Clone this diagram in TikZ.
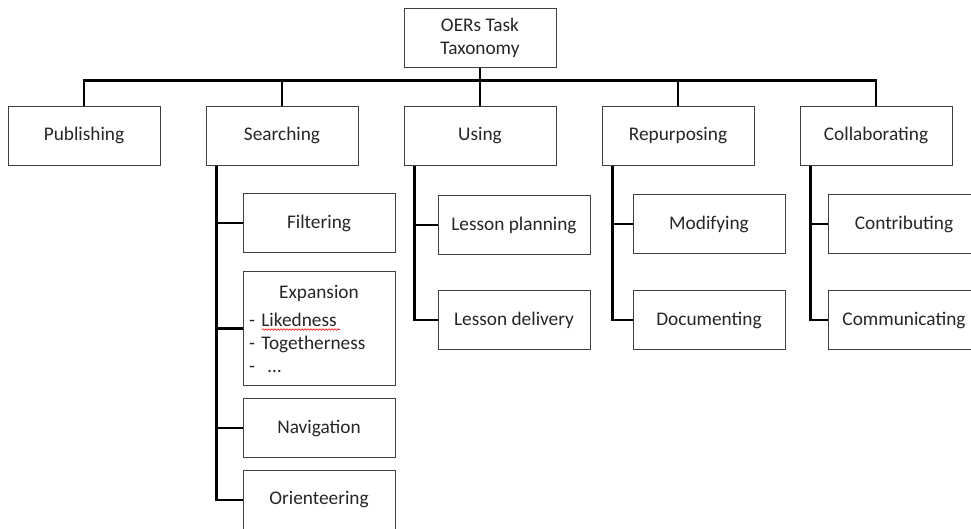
\documentclass[tikz,border=0pt]{standalone}
\usepackage{fontspec}
\setmainfont{Carlito}
\usepackage{tikz}
\usetikzlibrary{positioning,decorations.pathmorphing}
\definecolor{boxgray}{HTML}{404040}
\definecolor{textgray}{HTML}{262626}
\tikzstyle{block} = [rectangle, draw=boxgray, line width=1pt, text=textgray,
align=center, minimum width=152pt, minimum height=59pt, font=\fontsize{19.3}{23}\selectfont]
\tikzstyle{link} = [draw, line width=2.4pt]
\tikzstyle{spell} = [draw=red, line width=0.6pt, decorate, decoration={snake, amplitude=0.8pt, segment length=3pt}]

\begin{document}
\begin{tikzpicture}[node distance = 198pt]
    \useasboundingbox (0,0) rectangle (971pt,-528pt);
    \clip (0,0) rectangle (971pt,-528pt);
    % Nodes
    \node [block] (publishing) at (84pt,-135.5pt) {Publishing};
    \node [block, right of=publishing] (searching) {Searching};
    \node [block, right of=searching] (using) {Using};
    \node [block, right of=using] (repurposing) {Repurposing};
    \node [block, right of=repurposing] (collaborating) {Collaborating};
    \node [block, above of=using, node distance=98pt] (root) {OERs Task\\Taxonomy};

    % children
    \node [block, below of=searching, node distance=87.5pt, xshift=37pt] (filtering) {Filtering};
    \node [block, below=18pt of filtering, minimum height=114pt, text width=140pt, align=left] (expansion)
        {\centering Expansion\par\vspace{5pt}\raggedright - Likedness\\- Togetherness\\-\ \ \dots\par};
    \node [block, below=12pt of expansion] (navigation) {Navigation};
    \node [block, below=12pt of navigation] (orienteering) {Orienteering};
    \node [block, below of=using, node distance=89.5pt, xshift=34pt] (planning) {Lesson planning};
    \node [block, below=35pt of planning] (delivery) {Lesson delivery};
    \node [block, below of=repurposing, node distance=88.5pt, xshift=31pt] (modifying) {Modifying};
    \node [block, below=36pt of modifying] (documenting) {Documenting};
    \node [block, below of=collaborating, node distance=88.5pt, xshift=28pt] (contributing) {Contributing};
    \node [block, below=36pt of contributing] (communicating) {Communicating};

    % spell check mark
    \draw [spell] ([xshift=-57pt,yshift=-1pt]expansion.center) -- ++(78pt,0);

    % lines
    \coordinate (bus) at ([yshift=-13pt]root.south);
    \draw [link] (root.south) -- (bus);
    \foreach \n in {publishing,searching,using,repurposing,collaborating}
        \draw [link] (\n.north) |- (bus);
    \foreach \n in {filtering,expansion,navigation,orienteering}
        \draw [link] ([xshift=11pt]searching.south west) |- (\n.west);
    \foreach \n in {planning,delivery}
        \draw [link] ([xshift=11pt]using.south west) |- (\n.west);
    \foreach \n in {modifying,documenting}
        \draw [link] ([xshift=11pt]repurposing.south west) |- (\n.west);
    \foreach \n in {contributing,communicating}
        \draw [link] ([xshift=11pt]collaborating.south west) |- (\n.west);

\end{tikzpicture}
\end{document}
